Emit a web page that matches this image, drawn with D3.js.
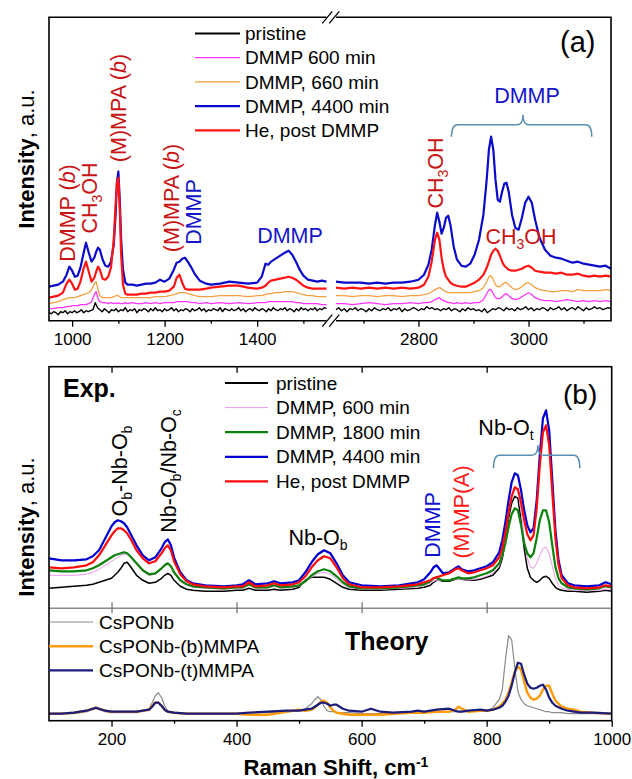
<!DOCTYPE html>
<html>
<head>
<meta charset="utf-8">
<script src="https://cdn.jsdelivr.net/npm/d3@7"></script>
<style>
  body { margin: 0; background: #fff; }
  text { font-family: "Liberation Sans", Arial, sans-serif; fill: #000; }
</style>
</head>
<body>
<div id="chart"></div>
<script>
// ---------- panel (a): left segment (950-1550 cm-1) ----------
var shiftA1 = [950, 960, 970, 980, 988, 994, 1000, 1006, 1012, 1018, 1024, 1030, 1036, 1042, 1048, 1052, 1056, 1060, 1066, 1072,
  1078, 1084, 1090, 1094, 1097, 1100, 1103, 1106, 1110, 1115, 1120, 1130, 1140, 1150, 1160, 1170, 1180, 1190, 1200, 1210,
  1220, 1226, 1232, 1238, 1244, 1250, 1258, 1266, 1276, 1290, 1300, 1320, 1340, 1360, 1380, 1400, 1410, 1418, 1424, 1430,
  1440, 1450, 1460, 1468, 1476, 1484, 1492, 1500, 1510, 1520, 1530, 1540, 1550];
var dmmp4400A1 = [34,35,36,39,46,54,50,44,45,53, 66,78,68,59,63,69,73,71,61,55, 54,59,76,106,139,149,121,81,51,38,
  36,36,35,36,37,37,38,41,39,42, 51,58,59,62,63,59,53,46,40,37, 36,37,39,38,37,38,44,57,56,59,
  62,65,68,70,66,59,51,45,41,40, 39,40,39];
var heA1 = [23,24,25,28,37,41,37,31,32,39, 51,59,49,39,43,49,54,51,42,41, 44,53,81,116,139,143,111,66,36,27,
  26,26,26,27,27,28,28,29,29,30, 34,43,46,38,32,31,31,31,31,32, 33,34,35,35,33,32,33,35,38,40,
  41,42,43,44,43,41,38,35,33,32, 32,32,32];
var dmmp660A1 = [17,18,19,21,22,23,23,23,24,25, 26,27,28,31,37,39,31,25,23,23, 23,23,24,25,25,25,24,23,23,23,
  23,23,23,23,23,23,24,24,24,25, 26,27,28,28,28,27,26,25,24,24, 24,25,25,25,24,25,25,26,27,27,
  28,28,29,29,29,28,27,26,25,25, 24,24,24];
var dmmp600A1 = [12,12,13,13,14,14,15,15,15,16, 16,16,17,19,26,29,22,19,18,18, 17,18,17,18,17,18,17,17,17,18,
  17,18,17,17,18,17,18,17,18,18, 18,19,19,19,19,19,18,18,17,18, 17,18,17,18,17,18,18,18,19,19,
  19,19,19,19,19,18,18,17,17,17, 17,16,16];
// pristine is recorded every 5 cm-1 (noisy)
var pristineA1Start = 950, pristineA1Step = 5;
var pristineA1 = [8,7,9,8,6,9,8,10,7,9,8,10,8,9,11,8,10,9,10,11, 18,13,
  11,9,12,10,8,11,10,12,9,11, 10,13,9,11,10,12,8,11,10,12, 11,9,12,10,13,10,11,9,12,10,
  11,13,10,12,9,11,10,12,11,9, 12,10,11,13,10,12,9,11,10,12, 11,10,13,9,12,11,10,12,10,11,
  13,10,12,9,11,12,10,13,11,10, 12,11,9,12,10,13,11,10,12,11, 13,10,12,11,9,12,10,13,11,12,
  10,12,11,13,10,12,11,13,12];

// ---------- panel (a): right segment (2650-3150 cm-1) ----------
var shiftA2 = [2650, 2665, 2680, 2695, 2710, 2725, 2740, 2755, 2770, 2785, 2800, 2810, 2818, 2824, 2830, 2834, 2838, 2842, 2846, 2850,
  2854, 2858, 2864, 2870, 2878, 2886, 2894, 2902, 2910, 2918, 2924, 2928, 2932, 2936, 2940, 2944, 2948, 2952, 2956, 2960,
  2964, 2970, 2976, 2982, 2988, 2994, 3000, 3006, 3012, 3020, 3030, 3040, 3050, 3060, 3070, 3080, 3090, 3100, 3110, 3120,
  3130, 3140, 3150];
var dmmp4400A2 = [39,38,38,38,37,38,37,38,38,39,41, 46,56,71,96,108,99,87,93,103,
  105,96,74,61,55,54,57,66,81,106, 141,171,184,171,141,121,119,129,137,138,
  129,106,93,91,103,118,124,118,101,83, 71,65,63,62,60,58,59,57,56,55, 54,55,52];
var heA2 = [33,32,33,32,33,32,33,32,33,32,33, 36,44,59,81,88,81,63,51,44,
  41,38,36,35,34,34,36,38,41,46, 53,59,66,70,72,70,65,59,55,53,
  51,50,50,51,52,54,55,53,50,49, 48,48,47,48,46,46,47,45,44,45, 44,45,44];
var dmmp660A2 = [25,25,24,25,25,24,25,25,24,25,25, 26,27,29,31,32,33,32,30,29,
  28,28,28,28,28,28,28,29,30,33, 39,44,45,41,36,34,34,36,38,38,
  36,33,31,32,34,37,38,36,33,31, 30,29,29,30,30,29,31,30,30,30, 30,31,30];
var dmmp600A2 = [17,17,16,17,18,17,16,17,17,18,17, 18,18,19,21,22,23,21,20,19,
  18,18,17,18,17,18,17,18,18,21, 27,31,31,27,23,22,22,24,26,27,
  25,22,21,22,24,26,28,26,23,21, 20,20,19,20,21,20,19,20,19,20, 19,20,19];
var pristineA2Start = 2650, pristineA2Step = 5;
var pristineA2 = [11,13,10,12,9,12,11,13,10,12,11,9,12,10,13,11,10,12,11,13,
  10,12,11,13,9,12,10,11,13,12,10,12,11,14,12,13,11,12,10,12,
  11,13,10,12,11,9,12,10,13,11,12,10,11,9,12,8,10,12,11,13,
  12,10,13,11,12,10,13,11,12,14,11,13,10,12,11,13,12,10,13,11,
  12,14,11,13,10,12,13,11,14,12,10,13,11,12,14,12,13,11,12,13,12];

var legendA = ["pristine", "DMMP 600 min", "DMMP, 660 min", "DMMP, 4400 min", "He, post DMMP"];
var colorsA = ["#000000", "#ff33ff", "#f4a040", "#0a0ac8", "#ff1414"];
var ticksA1 = [1000, 1200, 1400], minorA1 = [1100, 1300, 1500];
var ticksA2 = [2800, 3000], minorA2 = [2700, 2900, 3100];

// ---------- panel (b): experiment ----------
var shiftB = [100,120,140,160,170,180,190,200,205,210, 215,220,225,230,240,250,260,270,280,285,
  290,295,300,310,320,330,350,380,400,410, 420,430,450,460,470,490,500,510,520,530,
  540,550,560,570,580,600,630,660,690,700, 710,715,720,725,730,740,750,755,760,770,
  780,790,800,810,820,825,830,835,840,845, 850,855,860,865,870,875,880,885,890,895,
  900,905,910,915,920,930,940,960,980,990, 1000];
var pristineB = [20,21,22,23,24,26,28,30,33,36, 40,45,46,42,33,28,25,26,30,33,
  35,33,28,22,19,18,17,17,18,18, 20,18,18,19,18,19,21,28,31,31,
  31,29,25,21,19,18,18,19,20,21, 23,26,28,28,27,27,29,30,29,28,
  28,29,31,33,40,50,68,90,105,112, 110,88,60,40,31,28,26,28,31,32,
  30,25,21,19,18,17,17,16,17,18, 17];
var dmmp600B = [33,33,33,34,36,39,43,47,49,51, 53,54,54,51,44,37,33,34,39,43,
  45,42,35,27,23,21,20,19,20,20, 23,20,20,22,20,21,22,26,31,35,
  36,34,29,24,21,19,19,20,21,23, 25,27,28,28,28,28,29,30,29,28,
  29,30,32,35,42,52,70,93,111,120, 117,98,70,50,41,40,45,53,60,61,
  55,42,30,23,20,19,18,18,18,19, 19];
var dmmp1800B = [38,37,37,38,40,43,47,51,53,54, 55,56,55,52,45,38,34,35,40,43,
  45,42,36,28,24,22,21,20,21,21, 24,21,21,23,21,22,23,27,33,37,
  39,37,32,26,22,20,20,21,23,24, 27,30,31,29,28,28,30,31,30,30,
  31,33,35,38,45,53,65,81,94,100, 98,83,65,55,51,55,70,88,98,98,
  86,63,41,30,25,21,20,19,20,22, 21];
var dmmp4400B = [50,48,48,49,52,58,70,82,86,88, 87,85,81,75,63,53,48,51,60,66,
  69,63,51,36,28,25,23,22,23,24, 28,24,25,27,25,26,28,36,46,54,
  58,55,45,33,26,23,22,23,26,29, 36,41,43,39,35,36,40,42,39,37,
  38,40,42,46,56,68,86,108,126,135, 133,118,98,83,76,80,108,153,190,198,
  178,128,78,48,33,25,23,22,23,26, 24];
var heB = [41,40,41,43,46,53,63,73,77,80, 80,78,75,70,58,50,45,47,55,60,
  63,58,47,34,27,24,22,21,22,22, 26,22,23,25,23,24,26,32,41,48,
  52,50,41,30,24,21,21,22,24,26, 28,30,31,32,33,35,39,40,38,35,
  36,38,40,43,51,60,76,96,112,121, 119,106,88,74,68,73,100,143,176,183,
  163,116,70,43,30,23,21,20,21,23, 22];
var legendB = ["pristine", "DMMP, 600 min", "DMMP, 1800 min", "DMMP, 4400 min", "He, post DMMP"];
var colorsB = ["#000000", "#e99ae9", "#0b820b", "#0000d2", "#ff0a0a"];

// ---------- panel (b): theory ----------
var shiftT = [100,120,140,160,170,175,180,190,200,220, 240,260,265,270,275,280,285,290,300,320,
  350,380,400,420,450,480,500,510,520,525, 530,535,540,545,550,555,560,570,580,600,
  610,615,620,630,650,680,690,700,720,740, 750,755,760,770,790,800,810,820,825,830,
  835,840,845,850,855,860,865,870,875,880, 885,890,895,900,905,910,920,930,940,950, 970,1000];
var csponbT = [7,7,7,9,11,12,11,9,8,8, 8,12,18,25,28,23,15,10,8,7,
  7,7,7,8,8,9,10,12,17,21, 24,21,14,10,9,9,8,8,8,7,
  7,7,7,7,7,8,8,8,9,9, 9,9,9,9,10,10,13,21,31,61,
  85,81,53,29,21,17,15,14,13,12, 11,10,9,9,8,8,8,7,7,7, 7,7];
var bmmpaT = [7,7,8,10,12,13,12,10,9,9, 9,11,15,18,18,15,11,9,8,7,
  7,7,7,6,6,9,11,10,11,13, 16,19,20,18,13,10,8,7,6,6,
  6,6,6,6,7,8,8,8,9,9, 11,14,12,9,10,10,11,14,17,21,
  28,38,49,54,51,39,28,23,21,22, 25,31,35,35,27,20,14,12,11,9, 8,7];
var tmmpaT = [7,7,8,10,12,13,12,10,9,9, 9,11,14,18,18,15,11,9,8,7,
  7,7,7,8,9,10,10,11,12,14, 16,18,18,17,15,16,16,12,10,9,
  11,12,11,9,8,9,10,9,11,12, 10,9,9,10,11,10,11,13,15,19,
  25,35,48,58,57,46,37,33,32,33, 35,36,31,23,18,15,12,10,9,8, 8,7];
var legendT = ["CsPONb", "CsPONb-(b)MMPA", "CsPONb-(t)MMPA"];
var colorsT = ["#8a8a8a", "#ff9a0a", "#1c1c7c"];
var ticksB = [200, 400, 600, 800, 1000], minorB = [300, 500, 700, 900];

(function() {
  var width = 632, height = 779;

  var svg = d3.select("#chart")
      .append("svg")
      .attr("width", width)
      .attr("height", height)
      .style("background", "#fff");

  // scales
  var xA1 = d3.scaleLinear().domain([950, 1550]).range([49, 326.5]);
  var xA2 = d3.scaleLinear().domain([2650, 3150]).range([336, 611]);
  var yA = d3.scaleLinear().domain([0, 303.4]).range([320.7, 17.3]);

  var xB = d3.scaleLinear().domain([100, 1000]).range([49, 611.7]);
  var yExp = d3.scaleLinear().domain([0, 241.6]).range([608.3, 366.7]);
  var yTh = d3.scaleLinear().domain([0, 112.4]).range([720.7, 608.3]);

  function drawLine(g, xs, vals, xScale, yScale, color, w) {
    var line = d3.line()
      .x(function(d, i) { return xScale(xs[i]); })
      .y(function(d) { return yScale(d); });
    g.append("path")
      .datum(vals)
      .attr("d", line)
      .attr("fill", "none")
      .attr("stroke", color)
      .attr("stroke-width", w)
      .attr("stroke-linejoin", "round");
  }

  function evenly(start, step, vals) {
    return vals.map(function(d, i) { return start + i * step; });
  }

  function styleAxis(g, size) {
    g.select(".domain").remove();
    g.selectAll("line").attr("stroke", "#000").attr("stroke-width", 1.3);
    g.selectAll("text")
      .attr("fill", "#000")
      .style("font-size", size + "px")
      .style("font-family", "'Liberation Sans', Arial, sans-serif");
  }

  // ================= panel (a) =================
  var gA = svg.append("g");

  var widthsA = [1.4, 1.3, 1.3, 2.2, 2.2];
  drawLine(gA, evenly(pristineA1Start, pristineA1Step, pristineA1), pristineA1, xA1, yA, colorsA[0], widthsA[0]);
  drawLine(gA, shiftA1, dmmp600A1, xA1, yA, colorsA[1], widthsA[1]);
  drawLine(gA, shiftA1, dmmp660A1, xA1, yA, colorsA[2], widthsA[2]);
  drawLine(gA, shiftA1, dmmp4400A1, xA1, yA, colorsA[3], widthsA[3]);
  drawLine(gA, shiftA1, heA1, xA1, yA, colorsA[4], widthsA[4]);

  drawLine(gA, evenly(pristineA2Start, pristineA2Step, pristineA2), pristineA2, xA2, yA, colorsA[0], widthsA[0]);
  drawLine(gA, shiftA2, dmmp600A2, xA2, yA, colorsA[1], widthsA[1]);
  drawLine(gA, shiftA2, dmmp660A2, xA2, yA, colorsA[2], widthsA[2]);
  drawLine(gA, shiftA2, dmmp4400A2, xA2, yA, colorsA[3], widthsA[3]);
  drawLine(gA, shiftA2, heA2, xA2, yA, colorsA[4], widthsA[4]);

  // frame with axis break
  var yTopA = yA.range()[1], yBotA = yA.range()[0];
  var frameA = gA.append("g").attr("stroke", "#000").attr("stroke-width", 1.6).attr("fill", "none");
  frameA.append("path").attr("d",
    "M" + xA1.range()[1] + "," + yTopA + "H" + xA1.range()[0] + "V" + yBotA + "H" + xA1.range()[1]);
  frameA.append("path").attr("d",
    "M" + xA2.range()[0] + "," + yTopA + "H" + xA2.range()[1] + "V" + yBotA + "H" + xA2.range()[0]);
  [yTopA, yBotA].forEach(function(yy) {
    [-4, 3].forEach(function(off) {
      var cx = (xA1.range()[1] + xA2.range()[0]) / 2 + off;
      frameA.append("line")
        .attr("x1", cx - 5).attr("y1", yy + 6)
        .attr("x2", cx + 5).attr("y2", yy - 6)
        .attr("stroke-width", 1.3);
    });
  });

  // axes (a)
  var axA1 = gA.append("g").attr("transform", "translate(0," + yBotA + ")")
    .call(d3.axisBottom(xA1).tickValues(ticksA1).tickSize(6).tickPadding(6).tickFormat(d3.format("d")));
  styleAxis(axA1, 17);
  var axA1m = gA.append("g").attr("transform", "translate(0," + yBotA + ")")
    .call(d3.axisBottom(xA1).tickValues(minorA1).tickSize(3).tickFormat(""));
  styleAxis(axA1m, 17);
  var axA2 = gA.append("g").attr("transform", "translate(0," + yBotA + ")")
    .call(d3.axisBottom(xA2).tickValues(ticksA2).tickSize(6).tickPadding(6).tickFormat(d3.format("d")));
  styleAxis(axA2, 17);
  var axA2m = gA.append("g").attr("transform", "translate(0," + yBotA + ")")
    .call(d3.axisBottom(xA2).tickValues(minorA2).tickSize(3).tickFormat(""));
  styleAxis(axA2m, 17);

  // legend (a)
  var legA = gA.append("g");
  legendA.forEach(function(name, i) {
    var cy = 33.5 + i * 24.2;
    legA.append("line").attr("x1", 195).attr("x2", 240).attr("y1", cy).attr("y2", cy)
      .attr("stroke", colorsA[i]).attr("stroke-width", i === 0 ? 2 : widthsA[i]);
    legA.append("text").attr("x", 245).attr("y", cy + 6.6).style("font-size", "19px").text(name);
  });

  gA.append("text").attr("x", 560).attr("y", 52).style("font-size", "29px").text("(a)");

  // y label (a)
  var ylabA = gA.append("text")
    .attr("transform", "translate(34,159) rotate(-90)")
    .attr("text-anchor", "middle")
    .style("font-size", "22px");
  ylabA.append("tspan").style("font-weight", "bold").text("Intensity");
  ylabA.append("tspan").text(", a.u.");

  // annotations (a)
  var redNote = "#c81414", blueNote = "#1414c8", fsN = 21.5;

  function vText(g, x, y, color, parts) {
    var t = g.append("text")
      .attr("transform", "translate(" + x + "," + y + ") rotate(-90)")
      .attr("text-anchor", "middle")
      .style("font-size", fsN + "px")
      .attr("fill", color)
      .style("fill", color);
    addParts(t, parts);
    return t;
  }
  function hText(g, x, y, color, parts) {
    var t = g.append("text")
      .attr("x", x).attr("y", y)
      .attr("text-anchor", "middle")
      .style("font-size", fsN + "px")
      .style("fill", color);
    addParts(t, parts);
    return t;
  }
  // parts: strings, or {sub: "3"} / {it: "b"}
  function addParts(t, parts) {
    var shift = 0;
    parts.forEach(function(p) {
      if (typeof p === "string") {
        t.append("tspan").attr("dy", -shift).text(p);
        shift = 0;
      } else if (p.sub) {
        t.append("tspan").attr("dy", 5 - shift).style("font-size", "14px").text(p.sub);
        shift = 5;
      } else if (p.it) {
        t.append("tspan").attr("dy", -shift).style("font-style", "italic").text(p.it);
        shift = 0;
      }
    });
  }

  vText(gA, 75, 213, redNote, ["DMMP (", {it: "b"}, ")"]);
  vText(gA, 97, 198, redNote, ["CH", {sub: "3"}, "OH"]);
  vText(gA, 126, 108, redNote, ["(M)MPA (", {it: "b"}, ")"]);
  vText(gA, 179, 198, redNote, ["(M)MPA (", {it: "b"}, ")"]);
  vText(gA, 201, 212, blueNote, ["DMMP"]);
  hText(gA, 290, 243, blueNote, ["DMMP"]);
  vText(gA, 443, 173, redNote, ["CH", {sub: "3"}, "OH"]);
  hText(gA, 521, 244, redNote, ["CH", {sub: "3"}, "OH"]);
  hText(gA, 527, 103, blueNote, ["DMMP"]);

  function brace(g, x0, x1, xc, yLine, yEnd, yTip) {
    var r = 6;
    var d = "M" + x0 + "," + yEnd +
      "Q" + x0 + "," + yLine + " " + (x0 + r) + "," + yLine +
      "H" + (xc - r) +
      "Q" + xc + "," + yLine + " " + xc + "," + yTip +
      "Q" + xc + "," + yLine + " " + (xc + r) + "," + yLine +
      "H" + (x1 - r) +
      "Q" + x1 + "," + yLine + " " + x1 + "," + yEnd;
    g.append("path").attr("d", d).attr("fill", "none")
      .attr("stroke", "#5a8fb0").attr("stroke-width", 1.5);
  }
  brace(gA, xA2(2860), xA2(3115), xA2(2990), yA(196), yA(184), yA(206));

  // ================= panel (b) =================
  var gB = svg.append("g");
  var widthsB = [1.5, 1, 2.2, 2.2, 2.2];
  var seriesB = [pristineB, dmmp600B, dmmp1800B, dmmp4400B, heB];
  seriesB.forEach(function(s, i) {
    drawLine(gB, shiftB, s, xB, yExp, colorsB[i], widthsB[i]);
  });
  var widthsT = [1.2, 2.4, 2.2];
  [csponbT, bmmpaT, tmmpaT].forEach(function(s, i) {
    drawLine(gB, shiftT, s, xB, yTh, colorsT[i], widthsT[i]);
  });

  var xL = xB.range()[0], xR = xB.range()[1];
  var yTopB = yExp.range()[1], yMid = yExp.range()[0], yBotB = yTh.range()[0];

  // divider between experiment and theory
  gB.append("line").attr("x1", xL).attr("x2", xR).attr("y1", yMid).attr("y2", yMid)
    .attr("stroke", "#8a8a8a").attr("stroke-width", 1.6);
  var axMid = gB.append("g").attr("transform", "translate(0," + (yMid + 5) + ")")
    .call(d3.axisTop(xB).tickValues(ticksB.slice(0, 4)).tickSize(11).tickFormat(""));
  styleAxis(axMid, 17);
  axMid.selectAll("line").attr("stroke", "#777");

  var axTop = gB.append("g").attr("transform", "translate(0," + yTopB + ")")
    .call(d3.axisBottom(xB).tickValues(ticksB.slice(0, 4)).tickSize(6).tickFormat(""));
  styleAxis(axTop, 17);

  gB.append("rect").attr("x", xL).attr("y", yTopB)
    .attr("width", xR - xL).attr("height", yBotB - yTopB)
    .attr("fill", "none").attr("stroke", "#000").attr("stroke-width", 1.6);

  var axB = gB.append("g").attr("transform", "translate(0," + yBotB + ")")
    .call(d3.axisBottom(xB).tickValues(ticksB).tickSize(6).tickPadding(6).tickFormat(d3.format("d")));
  styleAxis(axB, 17);
  var axBm = gB.append("g").attr("transform", "translate(0," + yBotB + ")")
    .call(d3.axisBottom(xB).tickValues(minorB).tickSize(3).tickFormat(""));
  styleAxis(axBm, 17);

  // legends (b)
  legendB.forEach(function(name, i) {
    var cy = 383 + i * 24.6;
    gB.append("line").attr("x1", 225).attr("x2", 268).attr("y1", cy).attr("y2", cy)
      .attr("stroke", colorsB[i]).attr("stroke-width", i === 0 ? 2 : widthsB[i]);
    gB.append("text").attr("x", 276).attr("y", cy + 6.6).style("font-size", "19px").text(name);
  });
  legendT.forEach(function(name, i) {
    var cy = 622 + i * 24.2;
    gB.append("line").attr("x1", xL).attr("x2", 93).attr("y1", cy).attr("y2", cy)
      .attr("stroke", colorsT[i]).attr("stroke-width", widthsT[i]);
    gB.append("text").attr("x", 99).attr("y", cy + 6.6).style("font-size", "19px").text(name);
  });

  gB.append("text").attr("x", 63).attr("y", 397).style("font-size", "25px").style("font-weight", "bold").text("Exp.");
  gB.append("text").attr("x", 345).attr("y", 650).style("font-size", "25px").style("font-weight", "bold").text("Theory");
  gB.append("text").attr("x", 563).attr("y", 404).style("font-size", "28px").text("(b)");

  var ylabB = gB.append("text")
    .attr("transform", "translate(34,527) rotate(-90)")
    .attr("text-anchor", "middle")
    .style("font-size", "22px");
  ylabB.append("tspan").style("font-weight", "bold").text("Intensity");
  ylabB.append("tspan").text(", a.u.");

  var xlab = gB.append("text")
    .attr("x", 336).attr("y", 775)
    .attr("text-anchor", "middle")
    .style("font-size", "22px").style("font-weight", "bold");
  xlab.append("tspan").text("Raman Shift, cm");
  xlab.append("tspan").attr("dy", -8).style("font-size", "14px").text("-1");

  // annotations (b)
  vText(gB, 127, 471, "#000", ["O", {sub: "b"}, "-Nb-O", {sub: "b"}]);
  vText(gB, 176, 471, "#000", ["Nb-O", {sub: "b"}, "/Nb-O", {sub: "c"}]);
  hText(gB, 318, 545, "#000", ["Nb-O", {sub: "b"}]);
  vText(gB, 440, 525, "#1010d0", ["DMMP"]);
  vText(gB, 469, 512, "#ff1a1a", ["(M)MP(A)"]);
  hText(gB, 506, 435, "#000", ["Nb-O", {sub: "t"}]);
  brace(gB, xB(811), xB(949), xB(882), yExp(153), yExp(140), yExp(163));
})();
</script>
</body>
</html>
